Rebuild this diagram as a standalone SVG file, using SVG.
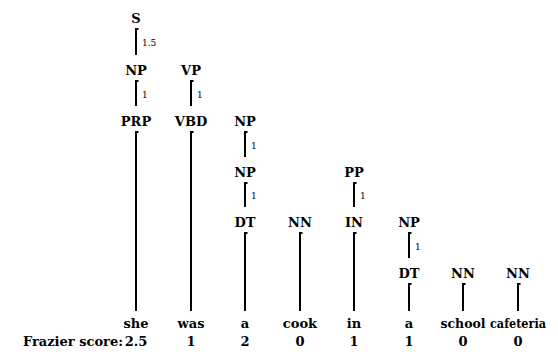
<svg xmlns="http://www.w3.org/2000/svg" width="558" height="352" viewBox="0 0 558 352">
<style>
.n{font-weight:bold;font-size:13px;fill:#000;text-anchor:middle}
.s{font-size:9px;fill:#000}
.e{fill:none;stroke:#000;stroke-width:2}
</style>
<rect width="558" height="352" fill="#fff"/>
<g id="connectors">
<path class="e" d="M138.5 29H136V55"/>
<path class="e" d="M138.5 81H136V106"/>
<path class="e" d="M193.5 81H191V106"/>
<path class="e" d="M247.5 132H245V157"/>
<path class="e" d="M247.5 183H245V207"/>
<path class="e" d="M356.5 183H354V207"/>
<path class="e" d="M411.5 233H409V258"/>
<path class="e" d="M138.5 132H136V311"/>
<path class="e" d="M193.5 132H191V311"/>
<path class="e" d="M247.5 233H245V311"/>
<path class="e" d="M302.5 233H300V311"/>
<path class="e" d="M356.5 233H354V311"/>
<path class="e" d="M411.5 284H409V311"/>
<path class="e" d="M465.5 284H463V311"/>
<path class="e" d="M520.5 284H518V311"/>
<g font-family="DejaVu Serif">
<text class="s" x="142" y="46">1.5</text>
<text class="s" x="142" y="98">1</text>
<text class="s" x="197" y="98">1</text>
<text class="s" x="251" y="149">1</text>
<text class="s" x="251" y="199">1</text>
<text class="s" x="360" y="199">1</text>
<text class="s" x="415" y="250">1</text>
</g>
</g>
<g font-family="DejaVu Serif">
<g id="n-S"><text class="n" x="136" y="23">S</text></g>
<g id="n-NP1"><text class="n" x="136" y="75">NP</text></g>
<g id="n-VP"><text class="n" x="191" y="75">VP</text></g>
<g id="n-PRP"><text class="n" x="136" y="126">PRP</text></g>
<g id="n-VBD"><text class="n" x="191" y="126">VBD</text></g>
<g id="n-NP2"><text class="n" x="245" y="126">NP</text></g>
<g id="n-NP3"><text class="n" x="245" y="177">NP</text></g>
<g id="n-PP"><text class="n" x="354" y="177">PP</text></g>
<g id="n-DT1"><text class="n" x="245" y="227">DT</text></g>
<g id="n-NN1"><text class="n" x="300" y="227">NN</text></g>
<g id="n-IN"><text class="n" x="354" y="227">IN</text></g>
<g id="n-NP4"><text class="n" x="409" y="227">NP</text></g>
<g id="n-DT2"><text class="n" x="409" y="278">DT</text></g>
<g id="n-NN2"><text class="n" x="463" y="278">NN</text></g>
<g id="n-NN3"><text class="n" x="518" y="278">NN</text></g>
<g id="words">
<text class="n" x="136" y="328">she</text>
<text class="n" x="191" y="328">was</text>
<text class="n" x="245" y="328">a</text>
<text class="n" x="300" y="328">cook</text>
<text class="n" x="354" y="328">in</text>
<text class="n" x="409" y="328">a</text>
<text class="n" x="463" y="328" textLength="45" lengthAdjust="spacingAndGlyphs">school</text>
<text class="n" x="518" y="328" textLength="56" lengthAdjust="spacingAndGlyphs">cafeteria</text>
</g>
<g id="scores">
<text class="n" x="123" y="346" style="text-anchor:end">Frazier score:</text>
<text class="n" x="136" y="346">2.5</text>
<text class="n" x="191" y="346">1</text>
<text class="n" x="245" y="346">2</text>
<text class="n" x="300" y="346">0</text>
<text class="n" x="354" y="346">1</text>
<text class="n" x="409" y="346">1</text>
<text class="n" x="463" y="346">0</text>
<text class="n" x="518" y="346">0</text>
</g>
</g>
</svg>
